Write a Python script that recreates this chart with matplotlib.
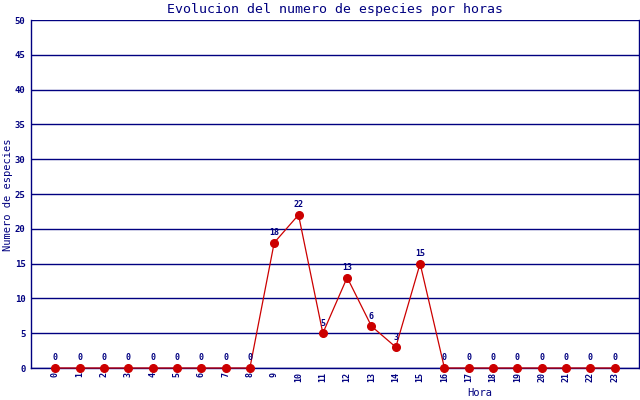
import matplotlib
matplotlib.use("Agg")
import matplotlib.pyplot as plt

hours = list(range(24))
hour_labels = [str(h) for h in hours]
counts = [0, 0, 0, 0, 0, 0, 0, 0, 0, 18, 22, 5, 13, 6, 3, 15, 0, 0, 0, 0, 0, 0, 0, 0]

NAVY = "#000080"
RED = "#CC0000"
plt.rcParams['font.family'] = ['DejaVu Sans Mono']

fig = plt.figure(figsize=(6.4, 4.0), dpi=100)
ax = fig.add_axes([31/640, 32/400, 608/640, 348/400])

ax.set_xlim(-1, 24)
ax.set_ylim(0, 50)
ax.set_yticks(range(0, 51, 5))
ax.set_xticks(hours)
ax.set_xticklabels(hour_labels, rotation=90, fontsize=6, color=NAVY, fontweight='bold')
for lbl in ax.get_yticklabels():
    lbl.set_fontweight('bold')
ax.tick_params(axis='y', labelsize=6.5, colors=NAVY, length=0, pad=4)
ax.tick_params(axis='x', length=0, pad=3, colors=NAVY)
ax.yaxis.grid(True, color=NAVY, linewidth=1.0)
ax.set_axisbelow(True)
for s in ax.spines.values():
    s.set_color(NAVY)
    s.set_linewidth(1.0)
ax.spines['top'].set_visible(False)

ax.plot(hours, counts, color=RED, linewidth=0.9, marker='o', markersize=5.5,
        markerfacecolor=RED, markeredgecolor=RED, zorder=3, clip_on=False)
for h, c in zip(hours, counts):
    ax.annotate(str(c), (h, c), xytext=(0, 4), textcoords='offset points',
                ha='center', va='bottom', fontsize=6, color=NAVY, fontweight='bold')

fig.text(335/640, 1 - 9/400, "Evolucion del numero de especies por horas",
         ha='center', va='center', fontsize=9.5, color=NAVY)
fig.text(8/640, 1 - 195/400, "Numero de especies", rotation=90,
         ha='center', va='center', fontsize=7.5, color=NAVY)
fig.text(480/640, 1 - 393/400, "Hora", ha='center', va='center',
         fontsize=7.5, color=NAVY)

for lbl in ax.get_yticklabels():
    lbl.set_fontweight('bold')

fig.savefig("out.png", dpi=100)
